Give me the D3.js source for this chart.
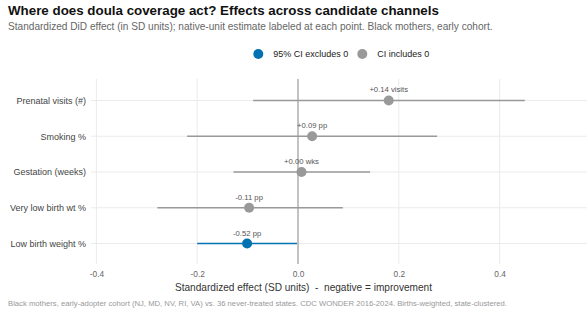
<!DOCTYPE html>
<html><head><meta charset="utf-8">
<script src="https://cdn.jsdelivr.net/npm/d3@7"></script>
<style>
body{margin:0;background:#fff;}
svg{font-family:"Liberation Sans",Arial,sans-serif;}
</style></head>
<body><svg id="c" width="587" height="317"></svg>
<script>
const channels = ["Prenatal visits (#)", "Smoking %", "Gestation (weeks)", "Very low birth wt %", "Low birth weight %"];
const estimates = [0.180, 0.028, 0.007, -0.097, -0.101];
const lowers = [-0.089, -0.220, -0.128, -0.279, -0.200];
const uppers = [0.450, 0.276, 0.143, 0.089, -0.002];
const nativeLabels = ["+0.14 visits", "+0.09 pp", "+0.00 wks", "-0.11 pp", "-0.52 pp"];
const excludesZero = [false, false, false, false, true];
const xTicks = [-0.4, -0.2, 0.0, 0.2, 0.4];
const xTickLabels = ["-0.4", "-0.2", "0.0", "0.2", "0.4"];
const legendItems = ["95% CI excludes 0", "CI includes 0"];

(function(){
const svg = d3.select("#c");
const colSig = "#0072B2", colNs = "#999999";
const data = channels.map((c,i)=>({c, est:estimates[i], lo:lowers[i], hi:uppers[i], lab:nativeLabels[i], sig:excludesZero[i]}));

const x = d3.scaleLinear().domain([-0.4, 0.4]).range([96.4, 499.6]);
const pL = 91, pR = 587, pT = 79, pB = 265;
const y = d3.scalePoint().domain(channels).range([pT, pB]).padding(0.6);

const g = svg.append("g");
g.selectAll("line.vg").data(xTicks).join("line")
  .attr("x1", d=>x(d)).attr("x2", d=>x(d)).attr("y1", pT).attr("y2", pB-1)
  .attr("stroke", "#ebebeb").attr("stroke-width", 1);
g.selectAll("line.hg").data(channels).join("line")
  .attr("x1", pL).attr("x2", pR).attr("y1", d=>y(d)).attr("y2", d=>y(d))
  .attr("stroke", "#ebebeb").attr("stroke-width", 1);

g.append("line").attr("x1", x(0)).attr("x2", x(0)).attr("y1", pT).attr("y2", pB-1)
  .attr("stroke", "#999").attr("stroke-width", 1.1);

g.selectAll("line.ci").data(data).join("line")
  .attr("x1", d=>x(d.lo)).attr("x2", d=>x(d.hi)).attr("y1", d=>y(d.c)).attr("y2", d=>y(d.c))
  .attr("stroke", d=>d.sig?colSig:colNs).attr("stroke-width", 1.5);
g.selectAll("circle.pt").data(data).join("circle")
  .attr("cx", d=>x(d.est)).attr("cy", d=>y(d.c)).attr("r", 5)
  .attr("fill", d=>d.sig?colSig:colNs);
g.selectAll("text.lab").data(data).join("text")
  .attr("x", d=>x(d.est)).attr("y", d=>y(d.c)-8).attr("text-anchor", "middle")
  .attr("font-size", 7.7).attr("fill", "#555").text(d=>d.lab);

const xa = d3.axisBottom(x).tickValues(xTicks).tickFormat((d,i)=>xTickLabels[i]).tickSize(0).tickPadding(6);
const xg = svg.append("g").attr("transform", `translate(0,${pB})`).call(xa);
xg.select(".domain").remove();
xg.selectAll("text").attr("font-size", 8.3).attr("fill", "#666").attr("font-family", "Liberation Sans, Arial, sans-serif");

const ya = d3.axisLeft(y).tickSize(0).tickPadding(5);
const yg = svg.append("g").attr("transform", `translate(${pL},0)`).call(ya);
yg.select(".domain").remove();
yg.selectAll("text").attr("font-size", 9).attr("fill", "#444").attr("font-family", "Liberation Sans, Arial, sans-serif");

svg.append("text").attr("x", 303.5).attr("y", 291).attr("text-anchor", "middle")
  .attr("font-size", 10.1).attr("fill", "#333").style("white-space","pre")
  .text("Standardized effect (SD units)  -  negative = improvement");

svg.append("text").attr("x", 8).attr("y", 15).attr("font-size", 13.35).attr("font-weight", "bold").attr("fill", "#111")
  .text("Where does doula coverage act? Effects across candidate channels");
svg.append("text").attr("x", 8).attr("y", 30).attr("font-size", 10.1).attr("fill", "#666")
  .text("Standardized DiD effect (in SD units); native-unit estimate labeled at each point. Black mothers, early cohort.");
svg.append("text").attr("x", 8).attr("y", 306).attr("font-size", 7.7).attr("fill", "#999")
  .text("Black mothers, early-adopter cohort (NJ, MD, NV, RI, VA) vs. 36 never-treated states. CDC WONDER 2016-2024. Births-weighted, state-clustered.");

const leg = svg.append("g");
const legX = [258.3, 362.3];
legendItems.forEach((t,i)=>{
  leg.append("circle").attr("cx", legX[i]).attr("cy", 54).attr("r", 5).attr("fill", i===0?colSig:colNs);
  leg.append("text").attr("x", legX[i]+15).attr("y", 57).attr("font-size", 9).attr("fill", "#222").text(t);
});
})();
</script></body></html>
